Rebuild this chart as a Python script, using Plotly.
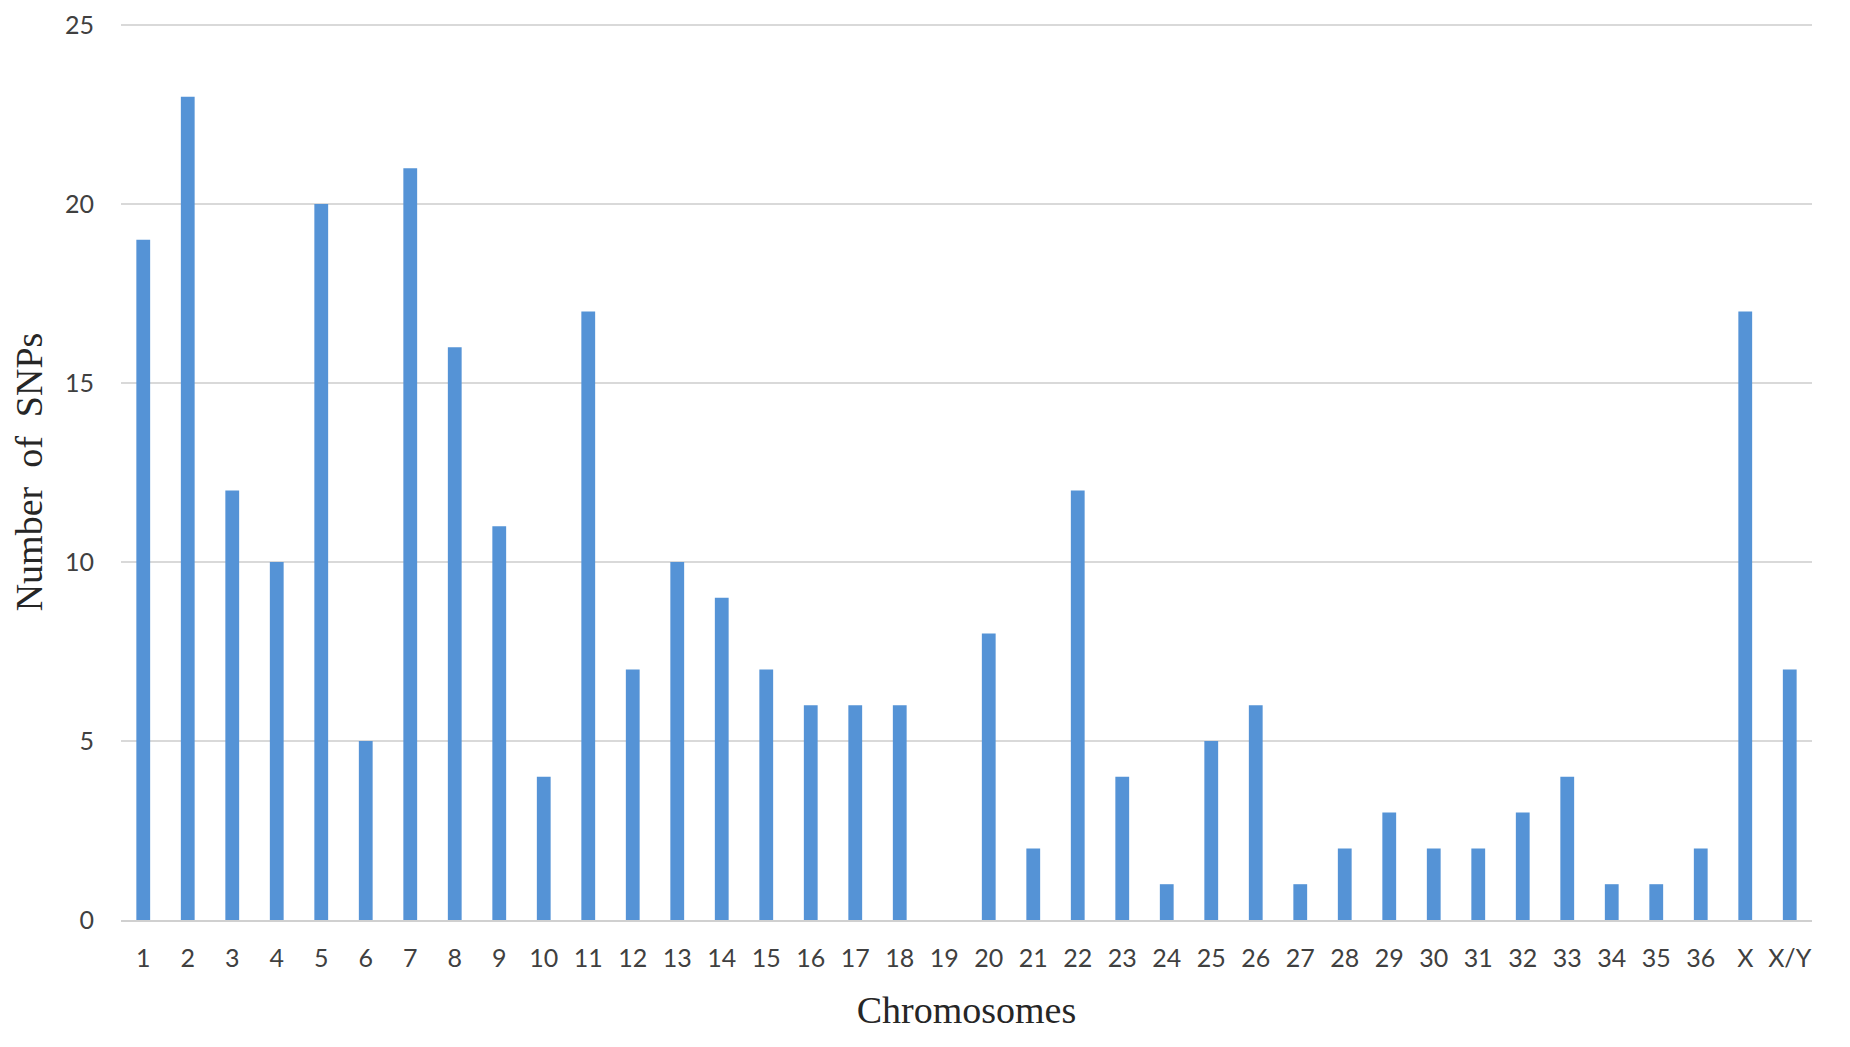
import plotly.graph_objects as go

chromosomes = [str(i) for i in range(1, 37)] + ["X", "X/Y"]
snp_counts = [19, 23, 12, 10, 20, 5, 21, 16, 11, 4, 17, 7, 10, 9, 7, 6, 6, 6, 0, 8,
              2, 12, 4, 1, 5, 6, 1, 2, 3, 2, 2, 3, 4, 1, 1, 2, 17, 7]
y_ticks = [0, 5, 10, 15, 20, 25]

fig = go.Figure(go.Bar(
    x=chromosomes, y=snp_counts,
    marker=dict(color="#5593D6", line=dict(width=0)),
))

fig.update_layout(
    width=1850, height=1047,
    paper_bgcolor="white", plot_bgcolor="white",
    margin=dict(l=113, r=46, t=16, b=135),
    bargap=0.69,
    showlegend=False,
    xaxis=dict(
        type="category", automargin=False,
        tickfont=dict(family="Lato", size=25, color="#404040"),
        ticks="", ticklabelstandoff=15,
        showline=True, linecolor="#D0D0D0", linewidth=1.5,
        title=dict(text="Chromosomes", font=dict(family="Liberation Serif", size=38, color="#262626"), standoff=26),
    ),
    yaxis=dict(
        range=[0, 25.03], tickvals=y_ticks, automargin=False,
        tickfont=dict(family="Lato", size=25, color="#404040"),
        ticks="", ticklabelstandoff=26,
        showgrid=True, gridcolor="#D9D9D9", gridwidth=1.5,
        zeroline=False, showline=False,
        title=dict(text="Number  of  SNPs", font=dict(family="Liberation Serif", size=38, color="#262626"), standoff=10),
    ),
)

fig.write_html("out.html")
